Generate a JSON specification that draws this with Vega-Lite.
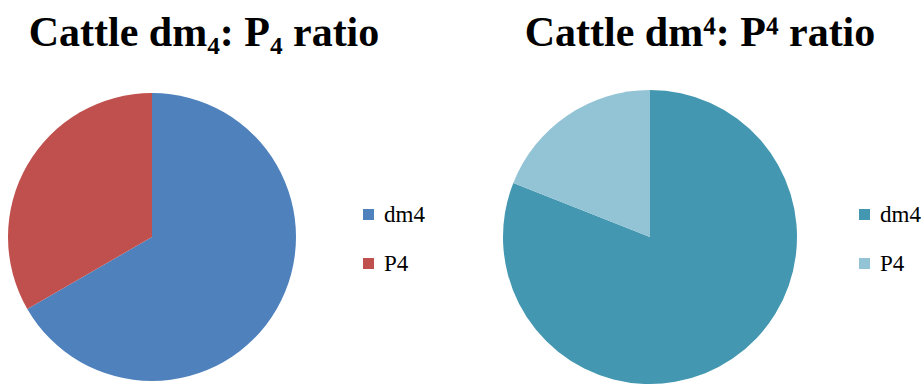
{
  "$schema": "https://vega.github.io/schema/vega-lite/v6.json",
  "background": "white",
  "padding": {"left": 8, "top": 12, "right": 0, "bottom": 0},
  "config": {"view": {"stroke": null}, "font": "Liberation Serif", "legend": {"labelFont": "Liberation Serif", "labelFontSize": 23, "labelColor": "#000"}},
  "datasets": {
    "left": [{"part": "dm4", "value": 2}, {"part": "P4", "value": 1}],
    "right": [{"part": "dm4", "value": 81}, {"part": "P4", "value": 19}]
  },
  "spacing": 78,
  "hconcat": [
    {
      "data": {"name": "left"},
      "width": 288,
      "height": 296,
      "title": {"text": "Cattle dm₄: P₄ ratio", "font": "Liberation Serif", "fontSize": 42, "fontWeight": "bold", "color": "#000", "anchor": "middle", "frame": "group", "dx": 52, "offset": 34},
      "mark": {"type": "arc", "radius": 144},
      "encoding": {
        "theta": {"field": "value", "type": "quantitative", "stack": true},
        "order": {"field": "part", "sort": "descending"},
        "color": {
          "field": "part", "type": "nominal", "sort": ["dm4", "P4"],
          "scale": {"domain": ["dm4", "P4"], "range": ["#4F81BD", "#C0504D"]},
          "legend": {"title": null, "orient": "none", "legendX": 349, "legendY": 114, "symbolType": "square", "symbolSize": 121, "symbolStrokeWidth": 0, "labelFont": "Liberation Serif", "labelFontSize": 23, "labelColor": "#000", "rowPadding": 25}
        }
      }
    },
    {
      "data": {"name": "right"},
      "width": 294,
      "height": 296,
      "title": {"text": "Cattle dm⁴: P⁴ ratio", "font": "Liberation Serif", "fontSize": 42, "fontWeight": "bold", "color": "#000", "anchor": "middle", "frame": "group", "dx": 50, "offset": 34},
      "mark": {"type": "arc", "radius": 147},
      "encoding": {
        "theta": {"field": "value", "type": "quantitative", "stack": true},
        "order": {"field": "part", "sort": "descending"},
        "color": {
          "field": "part", "type": "nominal", "sort": ["dm4", "P4"],
          "scale": {"domain": ["dm4", "P4"], "range": ["#4397B0", "#93C4D6"]},
          "legend": {"title": null, "orient": "none", "legendX": 350, "legendY": 114, "symbolType": "square", "symbolSize": 121, "symbolStrokeWidth": 0, "labelFont": "Liberation Serif", "labelFontSize": 23, "labelColor": "#000", "rowPadding": 25}
        }
      }
    }
  ],
  "resolve": {"scale": {"color": "independent"}, "legend": {"color": "independent"}}
}
